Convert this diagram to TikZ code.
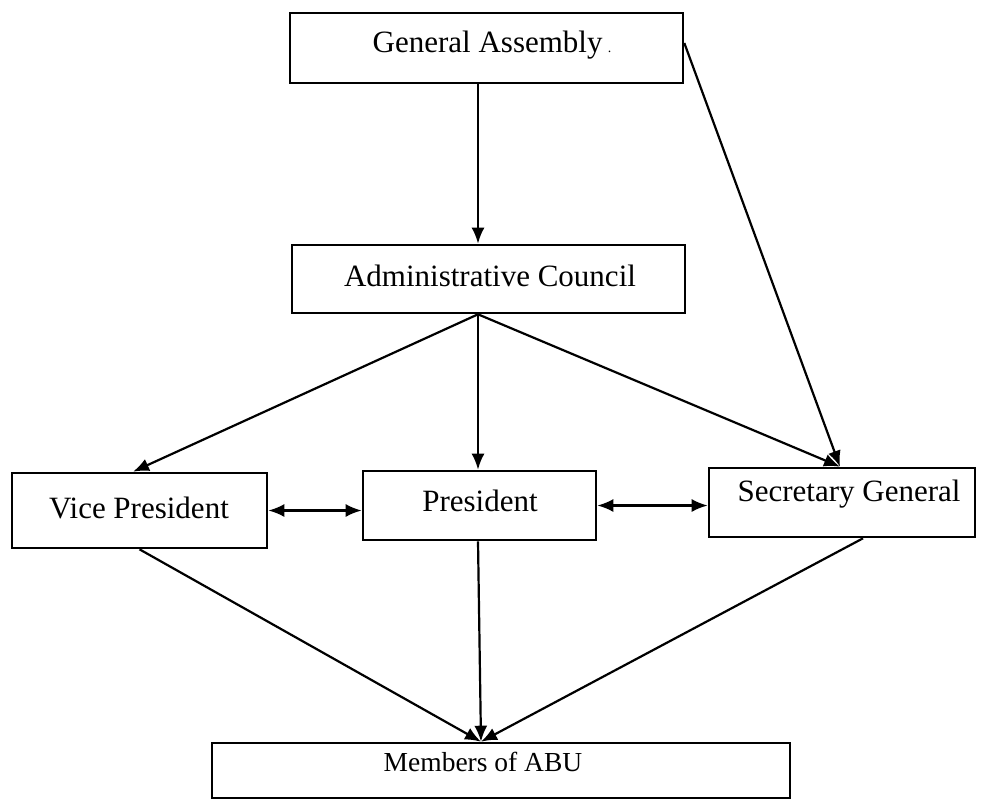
\documentclass[tikz,border=0pt]{standalone}
\usepackage{fontspec}
\setmainfont{Liberation Serif}
\usetikzlibrary{arrows.meta}
\begin{document}
\begin{tikzpicture}[x=1pt,y=-1pt,
  box/.style={draw,line width=2.6pt,inner sep=0pt},
  ar/.style={line width=2.2pt,-{Latex[length=16pt,width=13pt]}},
  dar/.style={line width=2.2pt,{Latex[length=16pt,width=13pt]}-{Latex[length=16pt,width=13pt]}},
  lbl/.style={inner sep=0pt,font=\fontsize{31}{36}\selectfont}]
\useasboundingbox (0,0) rectangle (981,800);
% boxes
\node[box,minimum width=393pt,minimum height=70pt] (ga) at (486.5,48) {};
\node[box,minimum width=393pt,minimum height=68pt] (ac) at (488.5,279) {};
\node[box,minimum width=255pt,minimum height=75pt] (vp) at (139.5,510.5) {};
\node[box,minimum width=233pt,minimum height=69pt] (pr) at (479.5,505.5) {};
\node[box,minimum width=266pt,minimum height=69pt] (sg) at (842,502.5) {};
\node[box,minimum width=578pt,minimum height=55pt] (mem) at (501,770.5) {};
% labels
\node[lbl] (gat) at (492,45) {General Assembly\,{\fontsize{14}{16}\selectfont .}};
\node[lbl] (act) at (490,276) {Administrative Council};
\node[lbl] (vpt) at (139,508) {Vice President};
\node[lbl] (prt) at (480,501) {President};
\node[lbl] (sgt) at (849,494) {Secretary General};
\node[lbl,font=\fontsize{27.5}{32}\selectfont] (memt) at (483,762) {Members of ABU};
% connectors
\coordinate (mt) at ([xshift=-20pt]mem.north);
\coordinate (acs) at ([xshift=-10.5pt]ac.south);
\draw[ar] ([xshift=-8.5pt]ga.south) -- ([xshift=-10.5pt]ac.north);
\draw[ar] ([yshift=5pt]ga.east) -- ([xshift=-2pt]sg.north);
\draw[ar] (acs) -- ([xshift=-6.5pt]vp.north);
\draw[ar] (acs) -- ([xshift=-1.5pt]pr.north);
\draw[ar] (acs) -- ([xshift=-2pt]sg.north);
\draw[dar] (vp.east) -- (vp.east -| pr.west);
\draw[dar] (pr.east) -- (pr.east -| sg.west);
\draw[ar] (vp.south) -- (mt);
\draw[ar] ([xshift=-1.5pt]pr.south) -- (mt);
\draw[ar] ([xshift=21pt]sg.south) -- (mt);
\end{tikzpicture}
\end{document}
